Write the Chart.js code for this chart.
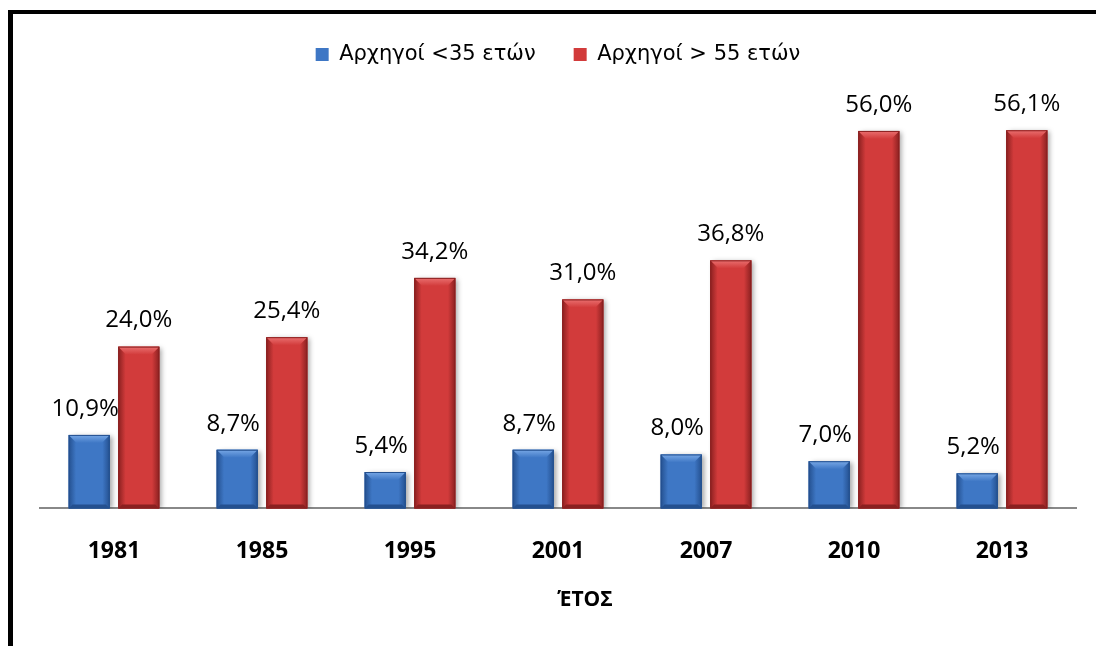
<!DOCTYPE html>
<html>
<head>
<meta charset="utf-8">
<script src="https://cdn.jsdelivr.net/npm/chart.js@4"></script>
<style>
    html, body { margin: 0; padding: 0; background: #fff; }
    #marco {
        position: absolute; left: 8px; top: 10px; width: 1200px; height: 700px;
        border-left: 5px solid #000; border-top: 4px solid #000;
    }
    #caja { position: absolute; left: 0; top: 0; width: 1096px; height: 646px; }
</style>
</head>
<body>
<div id="marco"></div>
<div id="caja"><canvas id="grafico"></canvas></div>
<script>
// Datos del gráfico
const anios = ['1981', '1985', '1995', '2001', '2007', '2010', '2013'];
const menores35 = [10.9, 8.7, 5.4, 8.7, 8.0, 7.0, 5.2];
const mayores55 = [24.0, 25.4, 34.2, 31.0, 36.8, 56.0, 56.1];
const etiquetas = ['Αρχηγοί <35 ετών', 'Αρχηγοί > 55 ετών'];
const tituloX = 'ΈΤΟΣ';

const fuente = "'Open Sans', 'Noto Sans', sans-serif";
const fuenteLeyenda = "'DejaVu Sans', Verdana, sans-serif";

const estilos = [
    { cuerpo: '#3e77c5', claro: '#78a8e6', oscuro: '#24508f' },
    { cuerpo: '#d23b3b', claro: '#ea7070', oscuro: '#8a2020' }
];

// Relieve tipo "bisel" sobre cada barra
const bisel = {
    id: 'bisel',
    beforeDatasetDraw(chart) {
        const ctx = chart.ctx;
        ctx.save();
        ctx.shadowColor = 'rgba(0,0,0,0.35)';
        ctx.shadowBlur = 5;
        ctx.shadowOffsetX = 3;
        ctx.shadowOffsetY = 1;
    },
    afterDatasetDraw(chart, args) {
        const ctx = chart.ctx;
        ctx.restore();
        const est = estilos[args.index];
        args.meta.data.forEach(bar => {
            const l = bar.x - bar.width / 2;
            const r = bar.x + bar.width / 2;
            const t = bar.y;
            const b = bar.base;
            const s = Math.min(8, (b - t) / 2);
            ctx.save();
            // cuerpo con degradado horizontal
            const g = ctx.createLinearGradient(l, 0, r, 0);
            g.addColorStop(0, est.oscuro);
            g.addColorStop(0.18, est.cuerpo);
            g.addColorStop(0.82, est.cuerpo);
            g.addColorStop(1, est.oscuro);
            ctx.fillStyle = g;
            ctx.fillRect(l, t, r - l, b - t);
            // bisel superior
            const gs = ctx.createLinearGradient(0, t, 0, t + s);
            gs.addColorStop(0, est.claro);
            gs.addColorStop(1, est.cuerpo);
            ctx.fillStyle = gs;
            ctx.beginPath();
            ctx.moveTo(l, t); ctx.lineTo(r, t); ctx.lineTo(r - s, t + s); ctx.lineTo(l + s, t + s);
            ctx.closePath(); ctx.fill();
            // bisel inferior
            ctx.fillStyle = est.oscuro;
            ctx.beginPath();
            ctx.moveTo(l, b); ctx.lineTo(r, b); ctx.lineTo(r - s / 2, b - s / 2); ctx.lineTo(l + s / 2, b - s / 2);
            ctx.closePath(); ctx.fill();
            ctx.strokeStyle = est.oscuro;
            ctx.lineWidth = 1;
            ctx.strokeRect(l + 0.5, t + 0.5, r - l - 1, b - t - 1);
            ctx.restore();
        });
    }
};

// Etiquetas de valor sobre las barras y título del eje X
const valores = {
    id: 'valores',
    afterDatasetsDraw(chart) {
        const ctx = chart.ctx;
        ctx.save();
        ctx.font = '24px ' + fuente;
        ctx.fillStyle = '#000';
        ctx.textAlign = 'center';
        ctx.textBaseline = 'middle';
        chart.data.datasets.forEach((ds, i) => {
            chart.getDatasetMeta(i).data.forEach((bar, j) => {
                const txt = ds.data[j].toFixed(1).replace('.', ',') + '%';
                ctx.fillText(txt, bar.x - (i === 0 ? 4 : 0), bar.y - 26);
            });
        });
        const area = chart.chartArea;
        ctx.font = 'bold 21px ' + fuente;
        ctx.fillText(tituloX, (area.left + area.right) / 2 + 27, area.bottom + 92);
        ctx.restore();
    }
};

const ctx = document.getElementById('grafico').getContext('2d');
new Chart(ctx, {
    type: 'bar',
    data: {
        labels: anios,
        datasets: [
            {
                label: etiquetas[0],
                data: menores35,
                backgroundColor: estilos[0].cuerpo,
                borderColor: estilos[0].oscuro,
                categoryPercentage: 0.67,
                barPercentage: 0.83
            },
            {
                label: etiquetas[1],
                data: mayores55,
                backgroundColor: estilos[1].cuerpo,
                borderColor: estilos[1].oscuro,
                categoryPercentage: 0.67,
                barPercentage: 0.83
            }
        ]
    },
    options: {
        responsive: true,
        maintainAspectRatio: false,
        animation: false,
        layout: { padding: { left: 40, right: 20, top: 6, bottom: 52 } },
        scales: {
            x: {
                grid: { display: false, drawTicks: false },
                border: { display: true, color: '#888', width: 2 },
                ticks: { color: '#000', padding: 29, font: { family: fuente, size: 23, weight: 'bold' } }
            },
            y: {
                display: false,
                min: 0,
                max: 64.3
            }
        },
        plugins: {
            legend: {
                position: 'top',
                labels: {
                    color: '#000',
                    boxWidth: 13,
                    boxHeight: 13,
                    padding: 38,
                    font: { family: fuenteLeyenda, size: 21 }
                }
            },
            tooltip: { enabled: false }
        }
    },
    plugins: [bisel, valores]
});
</script>
</body>
</html>
